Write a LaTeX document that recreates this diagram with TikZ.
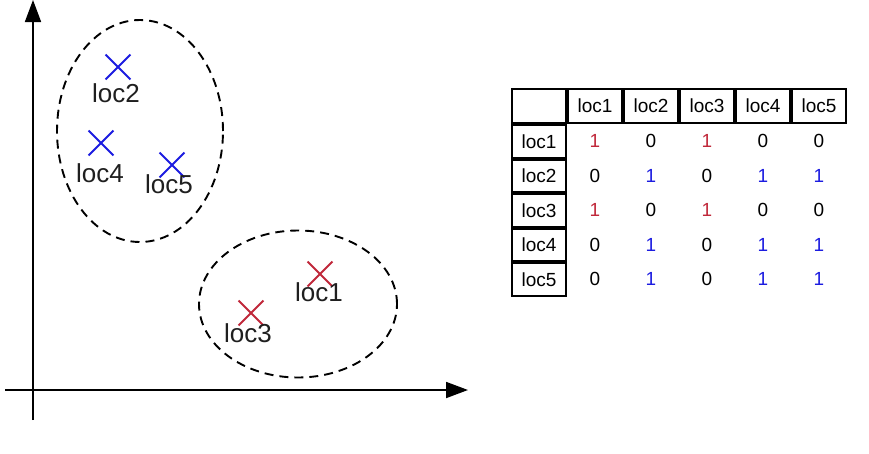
\documentclass[tikz,border=0pt]{standalone}
\usepackage{fontspec}
\setmainfont{Liberation Sans}
\usetikzlibrary{arrows.meta, positioning, shapes.geometric, shapes.misc, matrix}
\definecolor{clusterred}{HTML}{C0283A}
\definecolor{clusterblue}{HTML}{1C1CE0}

\begin{document}
\begin{tikzpicture}[
    x=1pt, y=-1pt,
    axis/.style={-{Triangle[length=22pt, width=16pt]}, line width=1.8pt},
    group/.style={draw, ellipse, line width=1.9pt, dash pattern=on 9pt off 6pt, inner sep=0pt},
    sample/.style={cross out, draw=#1, line width=1.8pt, minimum size=23pt, inner sep=0pt},
    tag/.style={font=\fontsize{26}{30}\selectfont, inner sep=0pt, text=black!88},
    cellbox/.style={draw, line width=2pt},
    inA/.style={text=clusterred},
    inB/.style={text=clusterblue},
]
\useasboundingbox (0,0) rectangle (869,453);

% Axes
\coordinate (ystart) at (33,420);
\coordinate (ytip) at (33,0);
\coordinate (xstart) at (5,390);
\coordinate (xtip) at (468,390);
\draw[axis] (ystart) -- (ytip);
\draw[axis] (xstart) -- (xtip);

% Clusters
\node[group, minimum width=166pt, minimum height=222pt] (grpB) at (140,131) {};
\node[group, minimum width=198pt, minimum height=147pt] (grpA) at (298,304) {};

% Samples
\node[sample=clusterblue] (s2) at (118,67) {};
\node[sample=clusterblue] (s4) at (101,143) {};
\node[sample=clusterblue] (s5) at (172,165) {};
\node[sample=clusterred] (s1) at (320,274) {};
\node[sample=clusterred] (s3) at (251,313) {};

\node[tag] (t2) at (116,93) {loc2};
\node[tag] (t4) at (100,173) {loc4};
\node[tag] (t5) at (169,184) {loc5};
\node[tag] (t1) at (319,292) {loc1};
\node[tag] (t3) at (248,333) {loc3};

% Similarity table
\matrix (sim) [matrix of nodes, anchor=north west, nodes in empty cells,
  inner sep=0pt, outer sep=0pt, column sep=0pt, row sep=0pt,
  nodes={minimum width=54pt, minimum height=32.5pt, inner sep=0pt,
    font=\fontsize{19}{22}\selectfont, anchor=center},
  row 1/.style={nodes={cellbox, minimum height=34pt}},
  column 1/.style={nodes=cellbox}] at (511,88) {
       & loc1       & loc2       & loc3       & loc4       & loc5       \\
  loc1 & |[inA]| 1  & 0          & |[inA]| 1  & 0          & 0          \\
  loc2 & 0          & |[inB]| 1  & 0          & |[inB]| 1  & |[inB]| 1  \\
  loc3 & |[inA]| 1  & 0          & |[inA]| 1  & 0          & 0          \\
  loc4 & 0          & |[inB]| 1  & 0          & |[inB]| 1  & |[inB]| 1  \\
  loc5 & 0          & |[inB]| 1  & 0          & |[inB]| 1  & |[inB]| 1  \\
};

\end{tikzpicture}
\end{document}
